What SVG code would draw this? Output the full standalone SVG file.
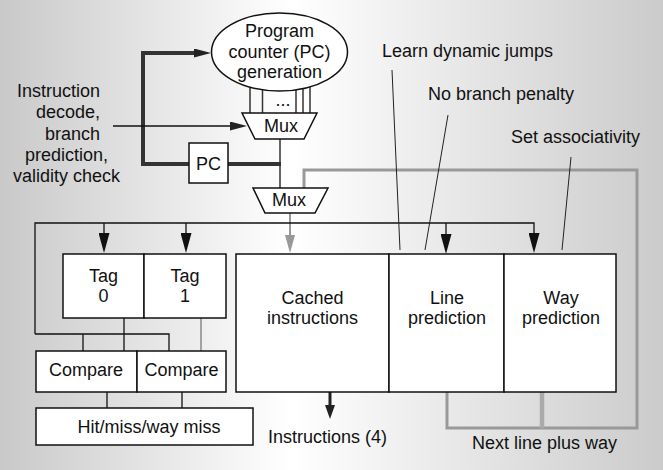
<svg xmlns="http://www.w3.org/2000/svg" width="663" height="470" viewBox="0 0 663 470">
<defs>
<linearGradient id="bg" x1="0" y1="0" x2="1" y2="0">
<stop offset="0" stop-color="#c9c9c9"/>
<stop offset="0.44" stop-color="#ffffff"/>
<stop offset="1" stop-color="#cbcbcb"/>
</linearGradient>
<marker id="ab" markerUnits="userSpaceOnUse" markerWidth="20" markerHeight="11" refX="0" refY="5.5" orient="auto"><path d="M0,0 L20,5.5 L0,11 z" fill="#111"/></marker>
<marker id="ag" markerUnits="userSpaceOnUse" markerWidth="18" markerHeight="10" refX="0" refY="5" orient="auto"><path d="M0,0 L18,5 L0,10 z" fill="#999"/></marker>
<marker id="at" markerUnits="userSpaceOnUse" markerWidth="17" markerHeight="9" refX="0" refY="4.5" orient="auto"><path d="M0,0 L17,4.5 L0,9 z" fill="#222"/></marker>
<marker id="as" markerUnits="userSpaceOnUse" markerWidth="14" markerHeight="10" refX="0" refY="5" orient="auto"><path d="M0,0 L14,5 L0,10 z" fill="#222"/></marker>
</defs>
<style>
text{font-family:"Liberation Sans",Arial,sans-serif;font-size:18px;fill:#111}
.c{text-anchor:middle}
.box{fill:#fff;stroke:#111;stroke-width:1.5}
.thin{fill:none;stroke:#111;stroke-width:1.3}
.dk{fill:none;stroke:#333;stroke-width:1.5}
.thick{fill:none;stroke:#333;stroke-width:4}
.gray{fill:none;stroke:#999;stroke-width:3}
.lead{fill:none;stroke:#222;stroke-width:1}
</style>
<rect x="0" y="0" width="663" height="470" fill="url(#bg)"/>

<g id="connectors">
<!-- lines from PC generation to mux -->
<line x1="250" y1="80" x2="250" y2="113" class="dk" stroke-width="1.2"/>
<line x1="262.5" y1="80" x2="262.5" y2="113" class="dk" stroke-width="2"/>
<line x1="296" y1="80" x2="296" y2="113" class="dk" stroke-width="1.5"/>
<line x1="303" y1="80" x2="303" y2="113" class="dk" stroke-width="1.5"/>
<line x1="310" y1="80" x2="310" y2="113" class="dk" stroke-width="1.2"/>
<!-- thick PC loop -->
<path d="M189,164 H143 V53 H194" class="thick" marker-end="url(#at)"/>
<path d="M228,164 H281" class="thick"/>
<!-- decode input to mux -->
<path d="M113,126 H230" class="thin" stroke-width="1.8" marker-end="url(#at)"/>
<!-- mux1 to mux2 -->
<path d="M280,139 V188" class="dk"/>
<!-- gray loop -->
<path d="M447,392 V428 H637 V170 H304 V188" class="gray"/>
<path d="M542,392 V428" fill="none" stroke="#aaa" stroke-width="4.5"/>
<!-- mux2 to cache -->
<path d="M290,213 V235" fill="none" stroke="#999" stroke-width="2" marker-end="url(#ag)"/>
<!-- address distribution -->
<path d="M35,334 V223 H534 V233" class="thin" marker-end="url(#ab)"/>
<path d="M104,223 V233" class="thin" marker-end="url(#ab)"/>
<path d="M186,223 V233" class="thin" marker-end="url(#ab)"/>
<path d="M446,223 V234" class="thin" marker-end="url(#ab)"/>
<path d="M35,334 H169 V351" class="thin"/>
<path d="M83,334 V351" class="thin"/>
<path d="M124,318 V351" class="thin"/>
<path d="M201,318 V351" fill="none" stroke="#888" stroke-width="1.5"/>
<path d="M107,392 V408" class="thin"/>
<path d="M182,392 V408" class="thin"/>
<!-- instructions out -->
<path d="M330,392 V405" fill="none" stroke="#222" stroke-width="3" marker-end="url(#as)"/>
<!-- leader lines -->
<line x1="392" y1="70" x2="400" y2="250" class="lead"/>
<line x1="448" y1="115" x2="425" y2="250" class="lead"/>
<line x1="571" y1="157" x2="562" y2="250" class="lead"/>
</g>

<g id="pcgen">
<ellipse cx="279.5" cy="52" rx="68" ry="39" class="box"/>
<text x="279.5" y="37" class="c">Program</text>
<text x="279.5" y="58" class="c">counter (PC)</text>
<text x="279.5" y="78" class="c">generation</text>
<text x="283" y="106" class="c" font-size="14">...</text>
</g>

<g id="mux1">
<polygon points="242,113 317,113 304,139 255,139" class="box"/>
<text x="281" y="132" class="c">Mux</text>
</g>

<g id="pc">
<rect x="189" y="143" width="39" height="40" class="box"/>
<text x="208.5" y="170" class="c">PC</text>
</g>

<g id="mux2">
<polygon points="253,188 328,188 315,213 265,213" class="box"/>
<text x="289" y="206" class="c">Mux</text>
</g>

<g id="tag0">
<rect x="63" y="254" width="81" height="64" class="box"/>
<text x="103.5" y="282" class="c">Tag</text>
<text x="103.5" y="302" class="c">0</text>
</g>
<g id="tag1">
<rect x="144" y="254" width="82" height="64" class="box"/>
<text x="185" y="282" class="c">Tag</text>
<text x="185" y="302" class="c">1</text>
</g>

<g id="compare0">
<rect x="36" y="351" width="101" height="41" class="box"/>
<text x="86" y="376" class="c">Compare</text>
</g>
<g id="compare1">
<rect x="137" y="351" width="89" height="41" class="box"/>
<text x="181.5" y="376" class="c">Compare</text>
</g>

<g id="hitmiss">
<rect x="36" y="408" width="217" height="37" class="box"/>
<text x="149" y="433" class="c">Hit/miss/way miss</text>
</g>

<g id="cached">
<rect x="236" y="254" width="153" height="138" class="box"/>
<text x="312.5" y="304" class="c">Cached</text>
<text x="312.5" y="324" class="c">instructions</text>
</g>
<g id="linepred">
<rect x="389" y="254" width="115" height="138" class="box"/>
<text x="447" y="304" class="c">Line</text>
<text x="447" y="324" class="c">prediction</text>
</g>
<g id="waypred">
<rect x="504" y="254" width="112" height="138" class="box"/>
<text x="561" y="304" class="c">Way</text>
<text x="561" y="324" class="c">prediction</text>
</g>

<g id="labels">
<text x="17" y="97">Instruction</text>
<text x="36" y="118">decode,</text>
<text x="45" y="140">branch</text>
<text x="25" y="161">prediction,</text>
<text x="13" y="182">validity check</text>
<text x="382" y="57">Learn dynamic jumps</text>
<text x="428" y="100">No branch penalty</text>
<text x="511" y="143">Set associativity</text>
<text x="268" y="443">Instructions (4)</text>
<text x="472" y="449">Next line plus way</text>
</g>
</svg>
